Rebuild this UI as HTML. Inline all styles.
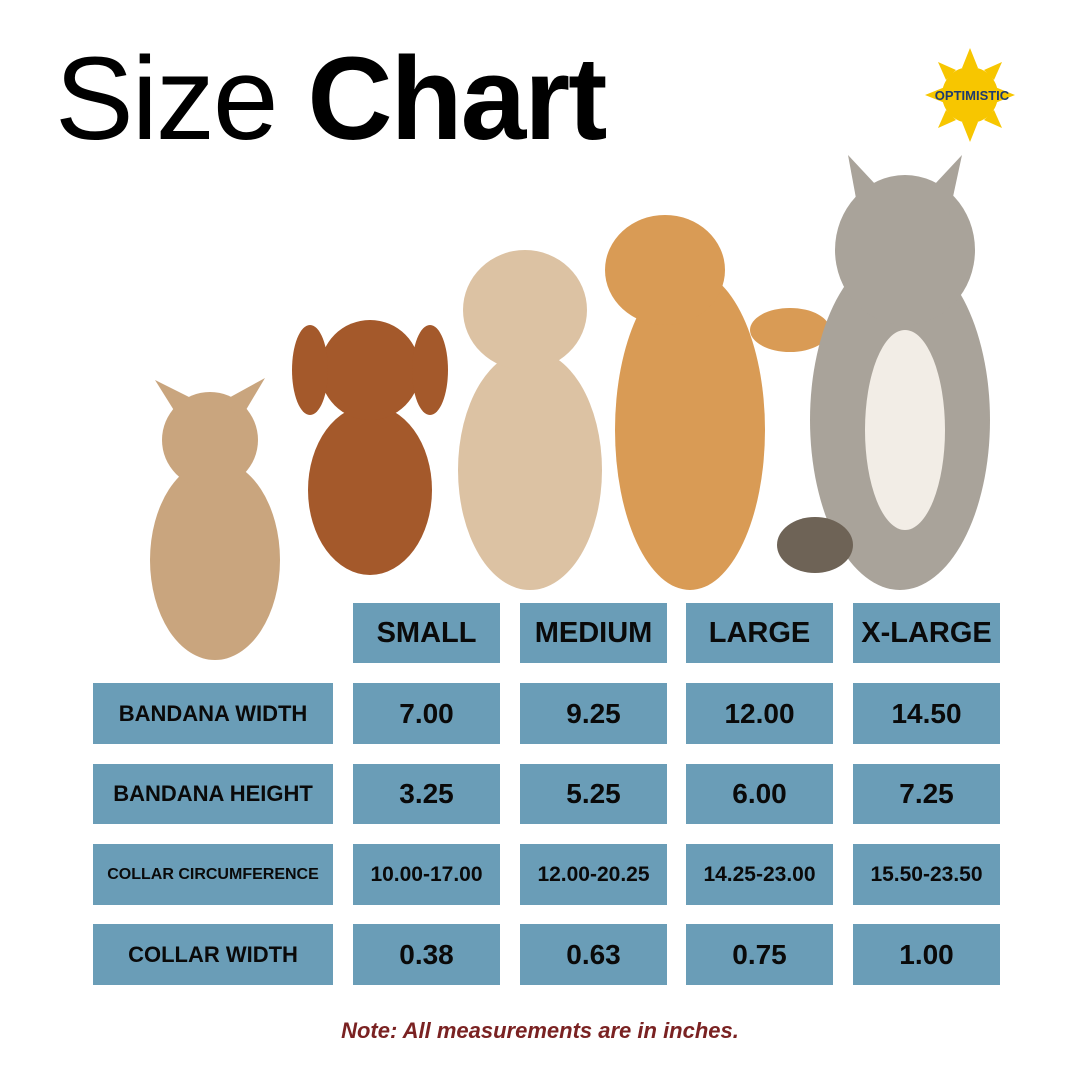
<!DOCTYPE html>
<html><head><meta charset="utf-8"><style>
body{margin:0;width:1080px;height:1080px;background:#fff;position:relative;overflow:hidden;font-family:"Liberation Sans",sans-serif}
.c{position:absolute;background:#6a9db7;color:#0a0a0a;font-weight:bold;display:flex;align-items:center;justify-content:center;text-align:center}
.h{font-size:29px}
.v{font-size:28px}
.l{font-size:22px}
</style></head><body>
<div style="position:absolute;left:55px;top:40px;font-size:118px;line-height:1;letter-spacing:-2px;color:#000">Size <b>Chart</b></div>
<svg width="1080" height="1080" style="position:absolute;left:0;top:0">
<g fill="#f7c600"><circle cx="970" cy="95" r="28"/><polygon points="970,48 962,68 978,68"/><polygon points="970,142 962,122 978,122"/><polygon points="925,95 945,87 945,103"/><polygon points="1015,95 995,87 995,103"/><polygon points="938,62 956,70 946,80"/><polygon points="1002,62 984,70 994,80"/><polygon points="938,128 956,120 946,110"/><polygon points="1002,128 984,120 994,110"/></g>
<text x="972" y="100" font-size="13" font-weight="bold" fill="#1d3b6e" text-anchor="middle" font-family="Liberation Sans">OPTIMISTIC</text>
<g fill="#c9a57e"><ellipse cx="215" cy="560" rx="65" ry="100"/><ellipse cx="210" cy="440" rx="48" ry="48"/><polygon points="155,380 180,420 195,400"/><polygon points="265,378 240,420 225,400"/></g>
<g fill="#a4592b"><ellipse cx="370" cy="490" rx="62" ry="85"/><ellipse cx="370" cy="370" rx="50" ry="50"/><ellipse cx="310" cy="370" rx="18" ry="45"/><ellipse cx="430" cy="370" rx="18" ry="45"/></g>
<g fill="#dcc2a3"><ellipse cx="530" cy="470" rx="72" ry="120"/><ellipse cx="525" cy="310" rx="62" ry="60"/></g>
<g fill="#d99b55"><ellipse cx="690" cy="430" rx="75" ry="160"/><ellipse cx="665" cy="270" rx="60" ry="55"/><ellipse cx="790" cy="330" rx="40" ry="22"/></g>
<g fill="#a9a39a"><ellipse cx="900" cy="420" rx="90" ry="170"/><ellipse cx="905" cy="250" rx="70" ry="75"/><polygon points="848,155 860,220 890,200"/><polygon points="962,155 948,220 920,200"/><ellipse cx="815" cy="545" rx="38" ry="28" fill="#6e6356"/></g>
<g fill="#f2ede6"><ellipse cx="905" cy="430" rx="40" ry="100"/></g>
</svg>
<div class="c h" style="left:353px;top:603px;width:147px;height:60px">SMALL</div>
<div class="c h" style="left:520px;top:603px;width:147px;height:60px">MEDIUM</div>
<div class="c h" style="left:686px;top:603px;width:147px;height:60px">LARGE</div>
<div class="c h" style="left:853px;top:603px;width:147px;height:60px">X-LARGE</div>

<div class="c l" style="left:93px;top:683px;width:240px;height:61px">BANDANA WIDTH</div>
<div class="c v" style="left:353px;top:683px;width:147px;height:61px">7.00</div>
<div class="c v" style="left:520px;top:683px;width:147px;height:61px">9.25</div>
<div class="c v" style="left:686px;top:683px;width:147px;height:61px">12.00</div>
<div class="c v" style="left:853px;top:683px;width:147px;height:61px">14.50</div>

<div class="c l" style="left:93px;top:764px;width:240px;height:60px">BANDANA HEIGHT</div>
<div class="c v" style="left:353px;top:764px;width:147px;height:60px">3.25</div>
<div class="c v" style="left:520px;top:764px;width:147px;height:60px">5.25</div>
<div class="c v" style="left:686px;top:764px;width:147px;height:60px">6.00</div>
<div class="c v" style="left:853px;top:764px;width:147px;height:60px">7.25</div>

<div class="c" style="left:93px;top:844px;width:240px;height:61px;font-size:16px">COLLAR CIRCUMFERENCE</div>
<div class="c" style="left:353px;top:844px;width:147px;height:61px;font-size:21px">10.00-17.00</div>
<div class="c" style="left:520px;top:844px;width:147px;height:61px;font-size:21px">12.00-20.25</div>
<div class="c" style="left:686px;top:844px;width:147px;height:61px;font-size:21px">14.25-23.00</div>
<div class="c" style="left:853px;top:844px;width:147px;height:61px;font-size:21px">15.50-23.50</div>

<div class="c l" style="left:93px;top:924px;width:240px;height:61px">COLLAR WIDTH</div>
<div class="c v" style="left:353px;top:924px;width:147px;height:61px">0.38</div>
<div class="c v" style="left:520px;top:924px;width:147px;height:61px">0.63</div>
<div class="c v" style="left:686px;top:924px;width:147px;height:61px">0.75</div>
<div class="c v" style="left:853px;top:924px;width:147px;height:61px">1.00</div>

<div style="position:absolute;left:0;width:1080px;top:1018px;text-align:center;font-size:22px;font-weight:bold;font-style:italic;color:#7a2222">Note: All measurements are in inches.</div>
</body></html>
